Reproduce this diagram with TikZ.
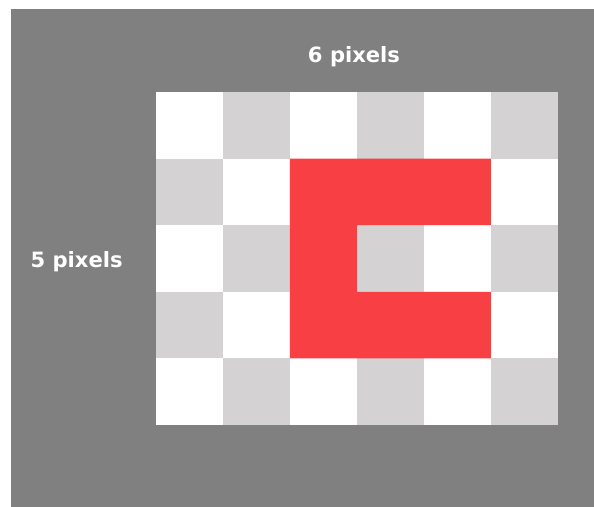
\documentclass[tikz,border=0pt]{standalone}
\usepackage{fontspec}
\setmainfont{DejaVu Sans}
\usepackage{tikz}
\usetikzlibrary{positioning,calc}
\definecolor{bggray}{RGB}{128,128,128}
\definecolor{cellgray}{RGB}{213,210,211}
\definecolor{cred}{RGB}{248,64,68}

\begin{document}
\begin{tikzpicture}[x=1cm,y=-1cm]
\tikzstyle{sizelabel}=[text=white,font=\bfseries\fontsize{12}{14}\selectfont,inner sep=0pt]
\tikzstyle{pix}=[fill=cellgray]
\useasboundingbox (0,0) rectangle (11.88,10.14);
\fill[bggray] (0.22,0.18) rectangle (11.88,10.14);
% pixel grid, 6 x 5
\begin{scope}[shift={(3.12,1.84)},x=1.34cm,y=-1.332cm]
\fill[white] (0,0) rectangle (6,5);
\foreach \r in {0,...,4}
  \foreach \c in {0,...,5}{
    \pgfmathtruncatemacro{\odd}{mod(\r+\c,2)}
    \ifnum\odd=1 \fill[pix] (\c,\r) rectangle ++(1,1); \fi
  }
\fill[cred] (2,1) -- (5,1) -- (5,2) -- (3,2) -- (3,3) -- (5,3) -- (5,4) -- (2,4) -- cycle;
\coordinate (gtop) at (3,0);
\coordinate (gleft) at (0,2.5);
\end{scope}
\node[sizelabel, above=0.5cm of gtop, xshift=-0.06cm] (wlabel) {6 pixels};
\node[sizelabel, left=0.66cm of gleft, yshift=-0.06cm] (hlabel) {5 pixels};
\end{tikzpicture}
\end{document}
